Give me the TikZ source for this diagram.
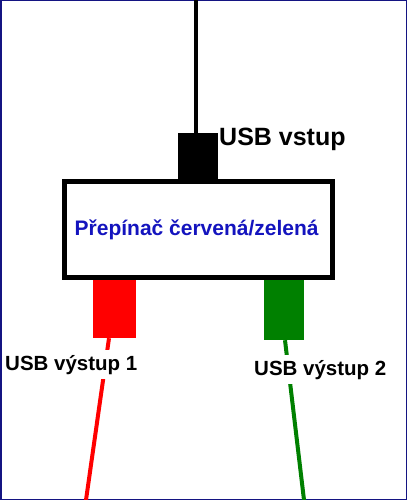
\documentclass[tikz,border=0pt]{standalone}
\usepackage{fontspec}
\setmainfont{Liberation Sans}
\usetikzlibrary{calc}
\definecolor{framecol}{RGB}{20,20,130}
\definecolor{textblue}{RGB}{20,20,190}
\definecolor{usbgreen}{RGB}{0,128,0}

\begin{document}
\begin{tikzpicture}[x=1pt,y=-1pt,
    plug/.style={rectangle, inner sep=0pt, draw=none},
    wire/.style={line width=4pt},
    lbl/.style={anchor=base west, inner xsep=0pt, inner ysep=4.5pt, font=\fontsize{20.5}{24}\selectfont\bfseries}]
    \useasboundingbox (0,0) rectangle (407,500);

    % frame
    \draw[framecol, line width=1.5pt] (0.75,0.75) rectangle (406.25,499.25);

    % switch box
    \node[draw, line width=5pt, minimum width=268pt, minimum height=96pt, inner sep=0pt] (box) at (198.5,229.5) {};
    \node[lbl, inner ysep=0pt, textblue, font=\fontsize{21}{24}\selectfont\bfseries] (boxlbl) at (74.5,235) {Přepínač červená/zelená};

    % input
    \node[plug, fill=black, minimum width=40pt, minimum height=49pt] (plugin) at (198,157.5) {};
    \coordinate (top) at (196,0);
    \draw[wire] (top) -- (top |- plugin.north);
    \node[lbl, inner ysep=0pt, font=\fontsize{25}{30}\selectfont\bfseries] (inlbl) at (219,145) {USB vstup};

    % outputs
    \node[plug, fill=red, minimum width=43pt, minimum height=58pt] (plugA) at (114.5,309) {};
    \node[plug, fill=usbgreen, minimum width=40pt, minimum height=60pt] (plugB) at (284,310) {};
    \coordinate (endA) at (86,500);
    \coordinate (endB) at (304,500);
    \draw[wire, red] ($(plugA.south)+(-5.5,0)$) -- (endA);
    \draw[wire, usbgreen] ($(plugB.south)+(1,0)$) -- (endB);

    % labels
    \node[lbl, fill=white] (outA) at (5,370) {USB výstup 1};
    \node[lbl, fill=white] (outB) at (254,375) {USB výstup 2};
\end{tikzpicture}
\end{document}
